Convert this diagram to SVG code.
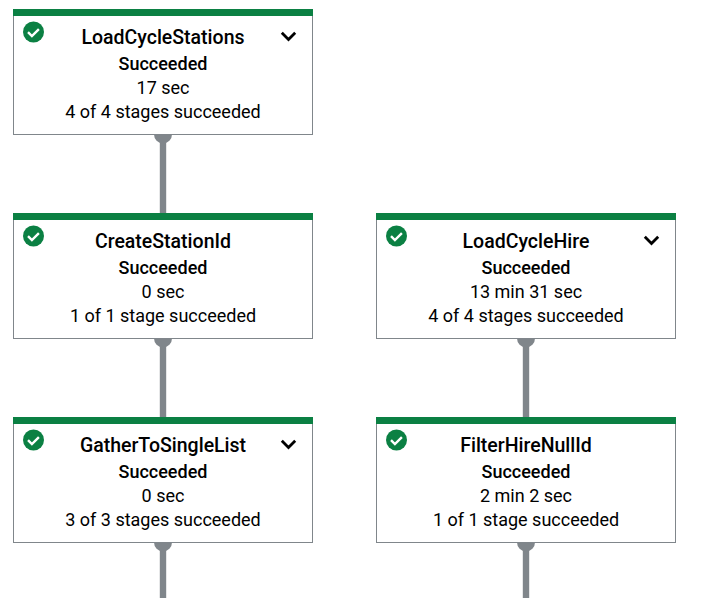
<svg xmlns="http://www.w3.org/2000/svg" width="711" height="598" viewBox="0 0 711 598">
<style>
text{font-family:Roboto,"Liberation Sans",sans-serif;text-anchor:middle;fill:#000;font-size:18px}
.t{font-size:19.5px;font-weight:500}
.s{font-weight:500;font-size:18px}
.b{fill:#fff;stroke:#80868b;stroke-width:1}
.g{fill:#0b8043}
.c{fill:none;stroke:#fff;stroke-width:2.4}
.v{fill:none;stroke:#000;stroke-width:2.8}
.l{stroke:#80868b;stroke-width:6.400;fill:none}
.d{fill:#80868b}
</style>
<defs>
<g id="icon"><circle cx="20.5" cy="23" r="10.5" class="g"/><path d="M15 23.2l3.9 3.9 7-7" class="c"/></g>
<path id="chev" d="M-6.7-3.2L0 3.5L6.7-3.2" class="v"/>
</defs>
<rect width="711" height="598" fill="#fff"/>
<g id="connectors">
<path class="l" d="M163 134V213"/><path class="d" d="M154 134.500h18a9 9 0 0 1-18 0z"/>
<path class="l" d="M163 338V417"/><path class="d" d="M154 338.500h18a9 9 0 0 1-18 0z"/>
<path class="l" d="M526 338V417"/><path class="d" d="M517 338.500h18a9 9 0 0 1-18 0z"/>
<path class="l" d="M163 542V598"/><path class="d" d="M154 542.500h18a9 9 0 0 1-18 0z"/>
<path class="l" d="M526 542V598"/><path class="d" d="M517 542.500h18a9 9 0 0 1-18 0z"/>
</g>
<g id="LoadCycleStations" transform="translate(13 9)">
<rect class="b" x=".5" y=".5" width="299" height="125"/><rect class="g" width="300" height="7"/><use href="#icon"/><use href="#chev" x="275.500" y="27"/>
<text class="t" x="150" y="34.500">LoadCycleStations</text><text class="s" x="150" y="60.500">Succeeded</text><text x="150" y="84.500">17 sec</text><text x="150" y="108.500">4 of 4 stages succeeded</text>
</g>
<g id="CreateStationId" transform="translate(13 213)">
<rect class="b" x=".5" y=".5" width="299" height="125"/><rect class="g" width="300" height="7"/><use href="#icon"/>
<text class="t" x="150" y="34.500">CreateStationId</text><text class="s" x="150" y="60.500">Succeeded</text><text x="150" y="84.500">0 sec</text><text x="150" y="108.500">1 of 1 stage succeeded</text>
</g>
<g id="LoadCycleHire" transform="translate(376 213)">
<rect class="b" x=".5" y=".5" width="299" height="125"/><rect class="g" width="300" height="7"/><use href="#icon"/><use href="#chev" x="275.500" y="27"/>
<text class="t" x="150" y="34.500">LoadCycleHire</text><text class="s" x="150" y="60.500">Succeeded</text><text x="150" y="84.500">13 min 31 sec</text><text x="150" y="108.500">4 of 4 stages succeeded</text>
</g>
<g id="GatherToSingleList" transform="translate(13 417)">
<rect class="b" x=".5" y=".5" width="299" height="125"/><rect class="g" width="300" height="7"/><use href="#icon"/><use href="#chev" x="275.500" y="27"/>
<text class="t" x="150" y="34.500">GatherToSingleList</text><text class="s" x="150" y="60.500">Succeeded</text><text x="150" y="84.500">0 sec</text><text x="150" y="108.500">3 of 3 stages succeeded</text>
</g>
<g id="FilterHireNullId" transform="translate(376 417)">
<rect class="b" x=".5" y=".5" width="299" height="125"/><rect class="g" width="300" height="7"/><use href="#icon"/>
<text class="t" x="150" y="34.500">FilterHireNullId</text><text class="s" x="150" y="60.500">Succeeded</text><text x="150" y="84.500">2 min 2 sec</text><text x="150" y="108.500">1 of 1 stage succeeded</text>
</g>
</svg>
